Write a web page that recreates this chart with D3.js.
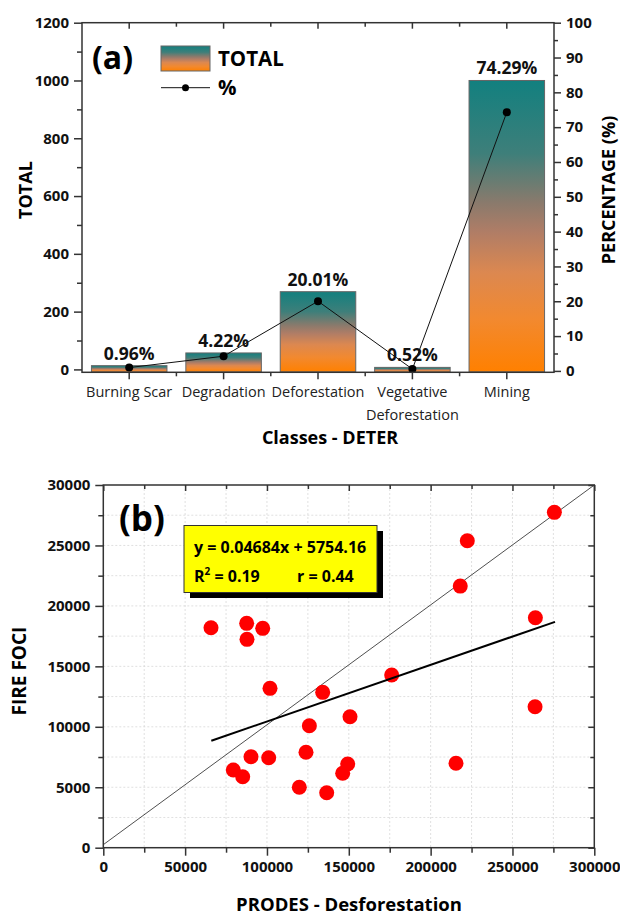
<!DOCTYPE html>
<html><head><meta charset="utf-8">
<script src="https://cdn.jsdelivr.net/npm/d3@7"></script>
<style>
body{margin:0;background:#fff;}
svg{font-family:"Open Sans","DejaVu Sans",sans-serif;}
</style></head>
<body>
<script>
// ---- Data (a) ----
const classes = ["Burning Scar","Degradation","Deforestation","Vegetative Deforestation","Mining"];
const totals = [13, 57, 269, 7, 1000];
const percents = [0.96, 4.22, 20.01, 0.52, 74.29];
const percentLabels = ["0.96%","4.22%","20.01%","0.52%","74.29%"];
const leftTicks = [0,200,400,600,800,1000,1200];
const rightTicks = [0,10,20,30,40,50,60,70,80,90,100];
// ---- Data (b) ----
const prodes = [65800,87600,87800,97400,101860,275600,222400,218100,264000,176200,134050,125900,90250,101050,79430,85170,119760,123850,150740,149330,146270,136500,215500,263800];
const fireFoci = [18194,18557,17235,18144,13180,27740,25390,21640,19020,14280,12850,10090,7526,7443,6426,5872,4995,7890,10834,6922,6153,4548,6980,11660];
const xTicksB = [0,50000,100000,150000,200000,250000,300000];
const yTicksB = [0,5000,10000,15000,20000,25000,30000];
const slope = 0.04684, intercept = 5754.16;
const fitRange = [66000, 276000];
const refLine = [[0,250],[300000,30000]];

const W=620,H=916;
const svg=d3.select("body").append("svg").attr("width",W).attr("height",H);
const defs=svg.append("defs");
const grad=defs.append("linearGradient").attr("id","barGrad").attr("x1",0).attr("y1",0).attr("x2",0).attr("y2",1);
[[0,"#12807f"],[0.25,"#3e7f7a"],[0.42,"#8a7a6c"],[0.52,"#b07d66"],[0.66,"#dc8850"],[0.82,"#f2892f"],[1,"#ff8000"]]
  .forEach(s=>grad.append("stop").attr("offset",s[0]).attr("stop-color",s[1]));

const axisColor="#333";
const TF=15; // tick font size
// ===== Chart (a) =====
const A={l:82,r:554,t:22.7,b:372.3};
const xA=d3.scaleBand().domain(classes).range([A.l,A.r]).paddingInner(0).paddingOuter(0);
const yA=d3.scaleLinear().domain([-10,1200]).range([A.b,A.t]);
const yP=d3.scaleLinear().domain([-0.4,100]).range([A.b,A.t]);
const ga=svg.append("g");
const bw=xA.bandwidth()*0.8;
ga.selectAll("rect.bar").data(classes).enter().append("rect")
  .attr("x",d=>xA(d)+xA.bandwidth()/2-bw/2)
  .attr("y",(d,i)=>yA(totals[i]))
  .attr("width",bw)
  .attr("height",(d,i)=>yA(0)-yA(totals[i])+2.5)
  .attr("fill","url(#barGrad)").attr("stroke","#666").attr("stroke-width",1);
const cx=d=>xA(d)+xA.bandwidth()/2;
ga.append("path").datum(classes).attr("fill","none").attr("stroke","#111").attr("stroke-width",1)
  .attr("d",d3.line().x(d=>cx(d)).y((d,i)=>yP(percents[i])));
ga.selectAll("circle.pt").data(classes).enter().append("circle")
  .attr("cx",cx).attr("cy",(d,i)=>yP(percents[i])).attr("r",4).attr("fill","#000");
ga.selectAll("text.lbl").data(classes).enter().append("text")
  .attr("x",cx).attr("y",(d,i)=>yA(totals[i])-6)
  .attr("text-anchor","middle").attr("font-weight","bold").attr("font-size",17.5).attr("fill","#111")
  .text((d,i)=>percentLabels[i]);
function frame(g,b){
  g.append("rect").attr("x",b.l).attr("y",b.t).attr("width",b.r-b.l).attr("height",b.b-b.t)
   .attr("fill","none").attr("stroke",axisColor).attr("stroke-width",1.5);
}
frame(ga,A);
ga.append("g").attr("transform",`translate(${A.l},0)`).call(d3.axisLeft(yA).tickValues(leftTicks).tickSize(8).tickPadding(5).tickFormat(d3.format("d")));
ga.append("g").attr("transform",`translate(${A.l},0)`).call(d3.axisLeft(yA).tickValues(d3.range(100,1200,200)).tickSize(5).tickFormat(""));
ga.append("g").attr("transform",`translate(${A.r},0)`).call(d3.axisRight(yP).tickValues(rightTicks).tickSize(7).tickPadding(5).tickFormat(d3.format("d")));
ga.append("g").attr("transform",`translate(${A.r},0)`).call(d3.axisRight(yP).tickValues(d3.range(5,100,10)).tickSize(4).tickFormat(""));
ga.append("g").attr("transform",`translate(0,${A.b})`).call(d3.axisBottom(xA).tickSize(7).tickFormat(""));
const minorX=classes.slice(1).map(d=>xA(d));
ga.selectAll("line.mbx").data(minorX).enter().append("line").attr("x1",d=>d).attr("x2",d=>d)
  .attr("y1",A.b).attr("y2",A.b+4).attr("stroke",axisColor).attr("stroke-width",1.5);
ga.selectAll("line.tt").data(classes).enter().append("line").attr("x1",cx).attr("x2",cx)
  .attr("y1",A.t).attr("y2",A.t+6).attr("stroke",axisColor).attr("stroke-width",1.5);
ga.selectAll("line.tm").data(minorX).enter().append("line").attr("x1",d=>d).attr("x2",d=>d)
  .attr("y1",A.t).attr("y2",A.t+4).attr("stroke",axisColor).attr("stroke-width",1.5);
classes.forEach((c,i)=>{
  const words = c==="Vegetative Deforestation" ? ["Vegetative","Deforestation"] : [c];
  const t=ga.append("text").attr("x",cx(c)).attr("y",A.b+25).attr("text-anchor","middle")
    .attr("font-size",14.5).attr("fill","#222");
  words.forEach((w,j)=>t.append("tspan").attr("x",cx(c)).attr("dy",j?23:0).text(w));
});
ga.append("text").attr("x",330).attr("y",444).attr("text-anchor","middle")
  .attr("font-weight","bold").attr("font-size",18).text("Classes - DETER");
ga.append("text").attr("transform",`translate(32,190) rotate(-90)`).attr("text-anchor","middle")
  .attr("font-weight","bold").attr("font-size",18).text("TOTAL");
ga.append("text").attr("transform",`translate(615,190) rotate(-90)`).attr("text-anchor","middle")
  .attr("font-weight","bold").attr("font-size",18).text("PERCENTAGE (%)");
ga.append("text").attr("x",92).attr("y",69).attr("font-weight","bold").attr("font-size",32).text("(a)");
ga.append("rect").attr("x",161).attr("y",46).attr("width",49).attr("height",25).attr("fill","url(#barGrad)").attr("stroke","#666");
ga.append("text").attr("x",218).attr("y",66).attr("font-weight","bold").attr("font-size",20.5).text("TOTAL");
ga.append("line").attr("x1",161).attr("x2",210).attr("y1",87.7).attr("y2",87.7).attr("stroke","#111");
ga.append("circle").attr("cx",185.5).attr("cy",87.7).attr("r",3.5);
ga.append("text").attr("x",218).attr("y",95).attr("font-weight","bold").attr("font-size",20.5).text("%");

// ===== Chart (b) =====
const B={l:103.3,r:594.3,t:485,b:847.7};
const xB=d3.scaleLinear().domain([0,300000]).range([B.l,B.r]);
const yB=d3.scaleLinear().domain([0,30000]).range([B.b,B.t]);
const gb=svg.append("g");
gb.selectAll("line.gx").data(d3.range(25000,300000,25000)).enter().append("line")
  .attr("x1",d=>xB(d)).attr("x2",d=>xB(d)).attr("y1",B.t).attr("y2",B.b)
  .attr("stroke","#d8d8d8").attr("stroke-dasharray","2,2").attr("stroke-width",0.8);
gb.selectAll("line.gy").data(d3.range(2500,30000,2500)).enter().append("line")
  .attr("y1",d=>yB(d)).attr("y2",d=>yB(d)).attr("x1",B.l).attr("x2",B.r)
  .attr("stroke","#d8d8d8").attr("stroke-dasharray","2,2").attr("stroke-width",0.8);
gb.append("path").datum(refLine).attr("fill","none").attr("stroke","#222").attr("stroke-width",0.8)
  .attr("d",d3.line().x(d=>xB(d[0])).y(d=>yB(d[1])));
gb.selectAll("circle.p").data(prodes).enter().append("circle")
  .attr("cx",d=>xB(d)).attr("cy",(d,i)=>yB(fireFoci[i])).attr("r",7.5).attr("fill","#ff0000");
gb.append("path").datum(fitRange).attr("fill","none").attr("stroke","#000").attr("stroke-width",2)
  .attr("d",d3.line().x(d=>xB(d)).y(d=>yB(slope*d+intercept)));
frame(gb,B);
gb.append("g").attr("transform",`translate(${B.l},0)`).call(d3.axisLeft(yB).tickValues(yTicksB).tickSize(8).tickPadding(5).tickFormat(d3.format("d")));
gb.append("g").attr("transform",`translate(${B.l},0)`).call(d3.axisLeft(yB).tickValues(d3.range(2500,30000,5000)).tickSize(5).tickFormat(""));
gb.append("g").attr("transform",`translate(0,${B.b})`).call(d3.axisBottom(xB).tickValues(xTicksB).tickSize(8).tickPadding(6).tickFormat(d3.format("d")));
gb.append("g").attr("transform",`translate(0,${B.b})`).call(d3.axisBottom(xB).tickValues(d3.range(25000,300000,50000)).tickSize(5).tickFormat(""));
gb.append("g").attr("transform",`translate(0,${B.t})`).call(d3.axisBottom(xB).tickValues(xTicksB).tickSize(6).tickFormat(""));
gb.append("g").attr("transform",`translate(0,${B.t})`).call(d3.axisBottom(xB).tickValues(d3.range(25000,300000,50000)).tickSize(4).tickFormat(""));
gb.append("g").attr("transform",`translate(${B.r},0)`).call(d3.axisLeft(yB).tickValues(yTicksB).tickSize(6).tickFormat(""));
gb.append("g").attr("transform",`translate(${B.r},0)`).call(d3.axisLeft(yB).tickValues(d3.range(2500,30000,5000)).tickSize(4).tickFormat(""));
gb.append("text").attr("x",349).attr("y",911).attr("text-anchor","middle")
  .attr("font-weight","bold").attr("font-size",18.5).text("PRODES - Desforestation");
gb.append("text").attr("transform",`translate(26,671) rotate(-90)`).attr("text-anchor","middle")
  .attr("font-weight","bold").attr("font-size",19).text("FIRE FOCI");
gb.append("text").attr("x",119).attr("y",531).attr("font-weight","bold").attr("font-size",35).text("(b)");
gb.append("rect").attr("x",190).attr("y",531).attr("width",193).attr("height",67).attr("fill","#000");
gb.append("rect").attr("x",184).attr("y",525.5).attr("width",193).attr("height",67).attr("fill","#ffff00").attr("stroke","#333").attr("stroke-width",1);
gb.append("text").attr("x",194).attr("y",553).attr("font-weight","bold").attr("font-size",16).text("y = 0.04684x + 5754.16");
const r2=gb.append("text").attr("x",194).attr("y",582).attr("font-weight","bold").attr("font-size",16);
r2.append("tspan").text("R");
r2.append("tspan").attr("font-size",10).attr("dy",-7).text("2");
r2.append("tspan").attr("dy",7).text(" = 0.19");
gb.append("text").attr("x",297).attr("y",582).attr("font-weight","bold").attr("font-size",16).text("r = 0.44");

svg.selectAll(".domain").remove();
svg.selectAll(".tick line").attr("stroke",axisColor).attr("stroke-width",1.5);
svg.selectAll(".tick text").attr("font-weight","bold").attr("font-size",TF).attr("fill","#111")
  .attr("font-family","'Open Sans','DejaVu Sans',sans-serif");
</script>
</body></html>
